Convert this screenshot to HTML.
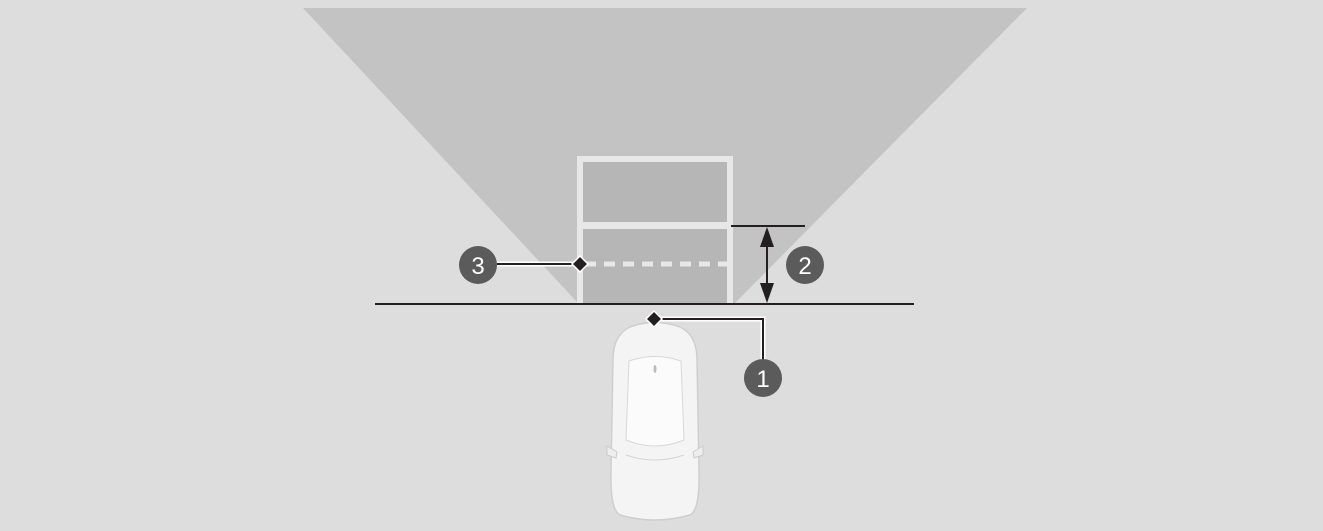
<!DOCTYPE html>
<html><head><style>html,body{margin:0;padding:0;background:#dcdddc}svg{display:block}</style></head>
<body>
<svg width="1323" height="531" viewBox="0 0 1323 531" xmlns="http://www.w3.org/2000/svg">
<rect width="1323" height="531" fill="#dcdddc"/>
<polygon points="303,8 1027,8 735,303 578,303" fill="#c2c3c2"/>
<rect x="577" y="156" width="156" height="148" fill="#e6e7e6"/>
<rect x="583" y="162" width="144" height="60" fill="#b5b6b5"/>
<rect x="583" y="229" width="144" height="75" fill="#b5b6b5"/>
<line x1="585" y1="264" x2="727" y2="264" stroke="#e6e7e6" stroke-width="5" stroke-dasharray="11,8"/>
<line x1="375" y1="304" x2="914" y2="304" stroke="#231f20" stroke-width="2"/>
<line x1="731" y1="226" x2="805" y2="226" stroke="#231f20" stroke-width="2"/>
<line x1="767" y1="236" x2="767" y2="294" stroke="#231f20" stroke-width="2"/>
<polygon points="767,227 760,247 774,247" fill="#231f20"/>
<polygon points="767,303 760,283 774,283" fill="#231f20"/>
<!-- car -->
<g>
<path d="M630,327 Q655,318 680,327 Q697,335 697,360 L699,470 Q700,510 690,515 Q655,525 620,515 Q610,510 611,470 L613,360 Q613,335 630,327 Z" fill="#f4f4f4" stroke="#cfcfcf" stroke-width="1.5"/>
<path d="M629,361 Q655,352 681,361 L684,440 Q655,452 626,440 Z" fill="#fbfbfb" stroke="#d8d8d8"/>
<path d="M626,455 Q655,465 684,455" fill="none" stroke="#d5d5d5"/>
<path d="M607,446 L617,452 L616,458 L607,455 Z" fill="#eee" stroke="#ccc"/>
<path d="M703,446 L693,452 L694,458 L703,455 Z" fill="#eee" stroke="#ccc"/>
<ellipse cx="655" cy="369" rx="1.5" ry="4" fill="#bbb"/>
</g>
<!-- callout 3 -->
<line x1="497" y1="264" x2="578" y2="264" stroke="#fff" stroke-width="5"/>
<line x1="497" y1="264" x2="578" y2="264" stroke="#231f20" stroke-width="2"/>
<polygon points="580,256 588,264 580,272 572,264" fill="#231f20" stroke="#fff" stroke-width="1.5"/>
<circle cx="478" cy="265" r="19" fill="#5b5b5b"/>
<text x="478" y="274" font-family="Liberation Sans, sans-serif" font-size="24" fill="#fff" text-anchor="middle">3</text>
<!-- callout 2 -->
<circle cx="805" cy="265" r="19" fill="#5b5b5b"/>
<text x="805" y="274" font-family="Liberation Sans, sans-serif" font-size="24" fill="#fff" text-anchor="middle">2</text>
<!-- callout 1 -->
<polyline points="656,319 763,319 763,360" fill="none" stroke="#fff" stroke-width="5"/>
<polyline points="656,319 763,319 763,360" fill="none" stroke="#231f20" stroke-width="2"/>
<polygon points="654,311 662,319 654,327 646,319" fill="#231f20" stroke="#fff" stroke-width="1.5"/>
<circle cx="763" cy="378" r="19" fill="#5b5b5b"/>
<text x="763" y="387" font-family="Liberation Sans, sans-serif" font-size="24" fill="#fff" text-anchor="middle">1</text>
</svg>
</body></html>
